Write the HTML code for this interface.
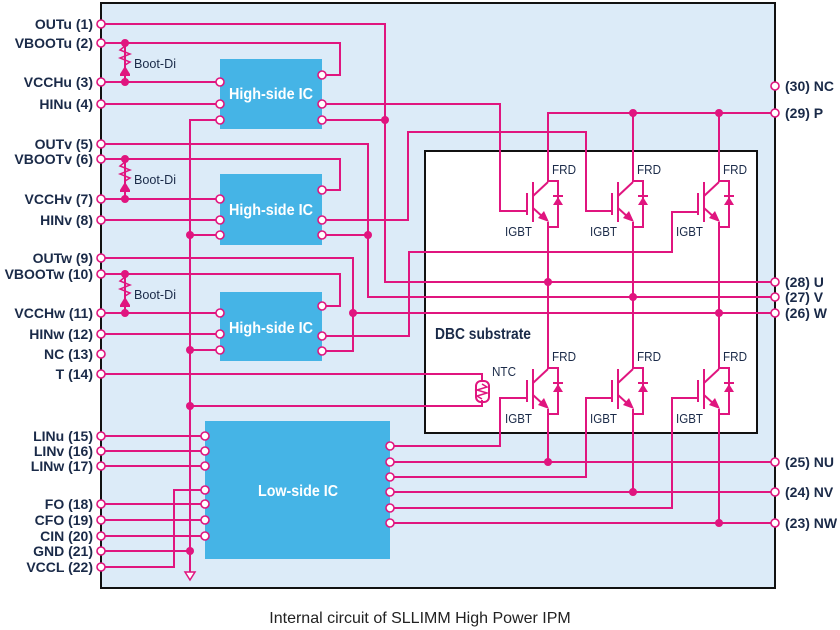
<!DOCTYPE html>
<html><head><meta charset="utf-8"><style>
html,body{margin:0;padding:0;background:#fff;}
svg{display:block;}
text{font-family:"Liberation Sans Narrow","Liberation Sans",sans-serif;fill:#1a2a48;}
.l{font-size:14px;font-weight:bold;text-anchor:end;}
.r{font-size:14px;font-weight:bold;}
.s{font-size:13px;}
.w{stroke:#e0157f;stroke-width:2;fill:none;}
.p{fill:#fff;stroke:#e0157f;stroke-width:1.6;}
.d{fill:#e0157f;}
</style></head><body>
<svg width="840" height="630" viewBox="0 0 840 630" xmlns="http://www.w3.org/2000/svg">
<defs>
<g id="ig">
 <line class="w" x1="527" y1="193" x2="527" y2="215"/>
 <line class="w" x1="533" y1="182" x2="533" y2="222"/>
 <line class="w" x1="533" y1="196" x2="548" y2="182"/>
 <line class="w" x1="533" y1="208" x2="544" y2="218"/>
 <polygon class="d" points="549,222 538,218 544,211"/>
 <polyline class="w" points="548,181 558,181 558,227 548,227"/>
 <polygon class="d" points="553,205 563,205 558,197"/>
 <line class="w" x1="553" y1="196" x2="563" y2="196"/>
</g>
</defs>
<rect x="101" y="3" width="674" height="585" fill="#dcebf8" stroke="#111" stroke-width="2"/>
<rect x="425" y="151" width="332" height="282" fill="#fff" stroke="#111" stroke-width="2"/>
<text x="435" y="339" style="font-size:16px;font-weight:bold" textLength="96" lengthAdjust="spacingAndGlyphs">DBC substrate</text>

<rect x="220" y="59" width="102" height="70" fill="#45b4e6"/>
<rect x="220" y="174" width="102" height="71" fill="#45b4e6"/>
<rect x="220" y="292" width="102" height="69" fill="#45b4e6"/>
<rect x="205" y="421" width="185" height="138" fill="#45b4e6"/>
<g style="font-size:16px;font-weight:bold">
<text x="229" y="99" style="fill:#fff" textLength="84" lengthAdjust="spacingAndGlyphs">High-side IC</text>
<text x="229" y="215" style="fill:#fff" textLength="84" lengthAdjust="spacingAndGlyphs">High-side IC</text>
<text x="229" y="333" style="fill:#fff" textLength="84" lengthAdjust="spacingAndGlyphs">High-side IC</text>
<text x="258" y="496" style="fill:#fff" textLength="80" lengthAdjust="spacingAndGlyphs">Low-side IC</text>
</g>

<g class="w">
<polyline points="101,24 385,24 385,282 775,282"/>
<polyline points="101,43 340,43 340,75 322,75"/>
<line x1="101" y1="82" x2="220" y2="82"/>
<line x1="101" y1="104" x2="220" y2="104"/>
<line x1="125" y1="43" x2="125" y2="82"/>
<polyline points="322,104 500,104 500,211 527,211"/>
<line x1="322" y1="120" x2="385" y2="120"/>

<polyline points="101,144 368,144 368,297 775,297"/>
<polyline points="101,159 340,159 340,190 322,190"/>
<line x1="101" y1="199" x2="220" y2="199"/>
<line x1="101" y1="220" x2="220" y2="220"/>
<line x1="125" y1="159" x2="125" y2="199"/>
<polyline points="322,220 408,220 408,132 586,132 586,211 612,211"/>
<line x1="322" y1="235" x2="368" y2="235"/>

<polyline points="101,258 353,258 353,351 322,351"/>
<line x1="353" y1="313" x2="775" y2="313"/>
<polyline points="101,274 340,274 340,306 322,306"/>
<line x1="101" y1="313" x2="220" y2="313"/>
<line x1="101" y1="334" x2="220" y2="334"/>
<line x1="125" y1="274" x2="125" y2="313"/>
<polyline points="322,336 409,336 409,252 672,252 672,212 698,212"/>

<polyline points="220,120 190,120 190,572"/>
<line x1="190" y1="235" x2="220" y2="235"/>
<line x1="190" y1="350" x2="220" y2="350"/>
<polyline points="190,406 482,406 482,400"/>
<polyline points="101,374 482,374 482,382"/>
<rect x="476" y="381" width="13" height="21" rx="5"/>
<polyline points="482,384 487,387 477,390 487,393 477,396 482,399" style="stroke-width:1.5"/>

<polyline points="775,113 548,113 548,182"/>
<line x1="633" y1="113" x2="633" y2="182"/>
<line x1="719" y1="113" x2="719" y2="182"/>
<line x1="548" y1="222" x2="548" y2="369"/>
<line x1="633" y1="222" x2="633" y2="369"/>
<line x1="719" y1="222" x2="719" y2="369"/>
<line x1="548" y1="409" x2="548" y2="462"/>
<line x1="633" y1="409" x2="633" y2="492"/>
<line x1="719" y1="409" x2="719" y2="523"/>

<polyline points="527,398 500,398 500,446 390,446"/>
<polyline points="612,398 586,398 586,477 390,477"/>
<polyline points="698,398 672,398 672,508 390,508"/>
<line x1="390" y1="462" x2="775" y2="462"/>
<line x1="390" y1="492" x2="775" y2="492"/>
<line x1="390" y1="523" x2="775" y2="523"/>

<line x1="101" y1="436" x2="205" y2="436"/>
<line x1="101" y1="451" x2="205" y2="451"/>
<line x1="101" y1="466" x2="205" y2="466"/>
<line x1="101" y1="504" x2="205" y2="504"/>
<line x1="101" y1="520" x2="205" y2="520"/>
<line x1="101" y1="536" x2="205" y2="536"/>
<line x1="101" y1="551" x2="190" y2="551"/>
<polyline points="101,567 174,567 174,490 205,490"/>
</g>
<polygon points="185,572 195,572 190,580" fill="#fff" stroke="#e0157f" stroke-width="1.5"/>

<g id="bd">
<polyline class="w" style="stroke-width:1.5" points="125,46 120,50 130,54 120,58 130,62 125,65"/>
<polygon class="d" points="120,74 130,74 125,66"/>
<line class="w" x1="120" y1="75" x2="130" y2="75"/>
</g>
<use href="#bd" transform="translate(0,116)"/>
<use href="#bd" transform="translate(0,231)"/>
<text class="s" x="134" y="68" textLength="42" lengthAdjust="spacingAndGlyphs">Boot-Di</text>
<text class="s" x="134" y="184" textLength="42" lengthAdjust="spacingAndGlyphs">Boot-Di</text>
<text class="s" x="134" y="299" textLength="42" lengthAdjust="spacingAndGlyphs">Boot-Di</text>

<use href="#ig"/>
<use href="#ig" transform="translate(85,0)"/>
<use href="#ig" transform="translate(171,0)"/>
<use href="#ig" transform="translate(0,187)"/>
<use href="#ig" transform="translate(85,187)"/>
<use href="#ig" transform="translate(171,187)"/>
<g class="s">
<text x="552" y="174" textLength="24" lengthAdjust="spacingAndGlyphs">FRD</text><text x="637" y="174" textLength="24" lengthAdjust="spacingAndGlyphs">FRD</text><text x="723" y="174" textLength="24" lengthAdjust="spacingAndGlyphs">FRD</text>
<text x="552" y="361" textLength="24" lengthAdjust="spacingAndGlyphs">FRD</text><text x="637" y="361" textLength="24" lengthAdjust="spacingAndGlyphs">FRD</text><text x="723" y="361" textLength="24" lengthAdjust="spacingAndGlyphs">FRD</text>
<text x="505" y="236" textLength="27" lengthAdjust="spacingAndGlyphs">IGBT</text><text x="590" y="236" textLength="27" lengthAdjust="spacingAndGlyphs">IGBT</text><text x="676" y="236" textLength="27" lengthAdjust="spacingAndGlyphs">IGBT</text>
<text x="505" y="423" textLength="27" lengthAdjust="spacingAndGlyphs">IGBT</text><text x="590" y="423" textLength="27" lengthAdjust="spacingAndGlyphs">IGBT</text><text x="676" y="423" textLength="27" lengthAdjust="spacingAndGlyphs">IGBT</text>
<text x="492" y="376" textLength="24" lengthAdjust="spacingAndGlyphs">NTC</text>
</g>

<g class="d">
<circle cx="125" cy="43" r="4"/><circle cx="125" cy="82" r="4"/>
<circle cx="125" cy="159" r="4"/><circle cx="125" cy="199" r="4"/>
<circle cx="125" cy="274" r="4"/><circle cx="125" cy="313" r="4"/>
<circle cx="385" cy="120" r="4"/><circle cx="368" cy="235" r="4"/><circle cx="353" cy="313" r="4"/>
<circle cx="190" cy="235" r="4"/><circle cx="190" cy="350" r="4"/><circle cx="190" cy="406" r="4"/><circle cx="190" cy="551" r="4"/>
<circle cx="633" cy="113" r="4"/><circle cx="719" cy="113" r="4"/>
<circle cx="548" cy="282" r="4"/><circle cx="633" cy="297" r="4"/><circle cx="719" cy="313" r="4"/>
<circle cx="548" cy="462" r="4"/><circle cx="633" cy="492" r="4"/><circle cx="719" cy="523" r="4"/>
</g>

<g class="p">
<circle cx="101" cy="24" r="4"/><circle cx="101" cy="43" r="4"/><circle cx="101" cy="82" r="4"/><circle cx="101" cy="104" r="4"/>
<circle cx="101" cy="144" r="4"/><circle cx="101" cy="159" r="4"/><circle cx="101" cy="199" r="4"/><circle cx="101" cy="220" r="4"/>
<circle cx="101" cy="258" r="4"/><circle cx="101" cy="274" r="4"/><circle cx="101" cy="313" r="4"/><circle cx="101" cy="334" r="4"/>
<circle cx="101" cy="354" r="4"/><circle cx="101" cy="374" r="4"/>
<circle cx="101" cy="436" r="4"/><circle cx="101" cy="451" r="4"/><circle cx="101" cy="466" r="4"/>
<circle cx="101" cy="504" r="4"/><circle cx="101" cy="520" r="4"/><circle cx="101" cy="536" r="4"/><circle cx="101" cy="551" r="4"/><circle cx="101" cy="567" r="4"/>
<circle cx="775" cy="86" r="4"/><circle cx="775" cy="113" r="4"/><circle cx="775" cy="282" r="4"/><circle cx="775" cy="297" r="4"/><circle cx="775" cy="313" r="4"/>
<circle cx="775" cy="462" r="4"/><circle cx="775" cy="492" r="4"/><circle cx="775" cy="523" r="4"/>
<circle cx="220" cy="82" r="4"/><circle cx="220" cy="104" r="4"/><circle cx="220" cy="120" r="4"/>
<circle cx="322" cy="75" r="4"/><circle cx="322" cy="104" r="4"/><circle cx="322" cy="120" r="4"/>
<circle cx="220" cy="199" r="4"/><circle cx="220" cy="220" r="4"/><circle cx="220" cy="235" r="4"/>
<circle cx="322" cy="190" r="4"/><circle cx="322" cy="220" r="4"/><circle cx="322" cy="235" r="4"/>
<circle cx="220" cy="313" r="4"/><circle cx="220" cy="334" r="4"/><circle cx="220" cy="350" r="4"/>
<circle cx="322" cy="306" r="4"/><circle cx="322" cy="336" r="4"/><circle cx="322" cy="351" r="4"/>
<circle cx="205" cy="436" r="4"/><circle cx="205" cy="451" r="4"/><circle cx="205" cy="466" r="4"/><circle cx="205" cy="490" r="4"/>
<circle cx="205" cy="504" r="4"/><circle cx="205" cy="520" r="4"/><circle cx="205" cy="536" r="4"/>
<circle cx="390" cy="446" r="4"/><circle cx="390" cy="462" r="4"/><circle cx="390" cy="477" r="4"/><circle cx="390" cy="492" r="4"/><circle cx="390" cy="508" r="4"/><circle cx="390" cy="523" r="4"/>
</g>

<g class="l">
<text x="93" y="29">OUTu (1)</text><text x="93" y="48">VBOOTu (2)</text><text x="93" y="87">VCCHu (3)</text><text x="93" y="109">HINu (4)</text>
<text x="93" y="149">OUTv (5)</text><text x="93" y="164">VBOOTv (6)</text><text x="93" y="204">VCCHv (7)</text><text x="93" y="225">HINv (8)</text>
<text x="93" y="263">OUTw (9)</text><text x="93" y="279">VBOOTw (10)</text><text x="93" y="318">VCCHw (11)</text><text x="93" y="339">HINw (12)</text>
<text x="93" y="359">NC (13)</text><text x="93" y="379">T (14)</text>
<text x="93" y="441">LINu (15)</text><text x="93" y="456">LINv (16)</text><text x="93" y="471">LINw (17)</text>
<text x="93" y="509">FO (18)</text><text x="93" y="525">CFO (19)</text><text x="93" y="541">CIN (20)</text><text x="93" y="556">GND (21)</text><text x="93" y="572">VCCL (22)</text>
</g>
<g class="r">
<text x="785" y="91">(30) NC</text><text x="785" y="118">(29) P</text>
<text x="785" y="287">(28) U</text><text x="785" y="302">(27) V</text><text x="785" y="318">(26) W</text>
<text x="785" y="467">(25) NU</text><text x="785" y="497">(24) NV</text><text x="785" y="528">(23) NW</text>
</g>
<text x="420" y="623" text-anchor="middle" style="font-size:16px;fill:#222">Internal circuit of SLLIMM High Power IPM</text>
</svg>
</body></html>
